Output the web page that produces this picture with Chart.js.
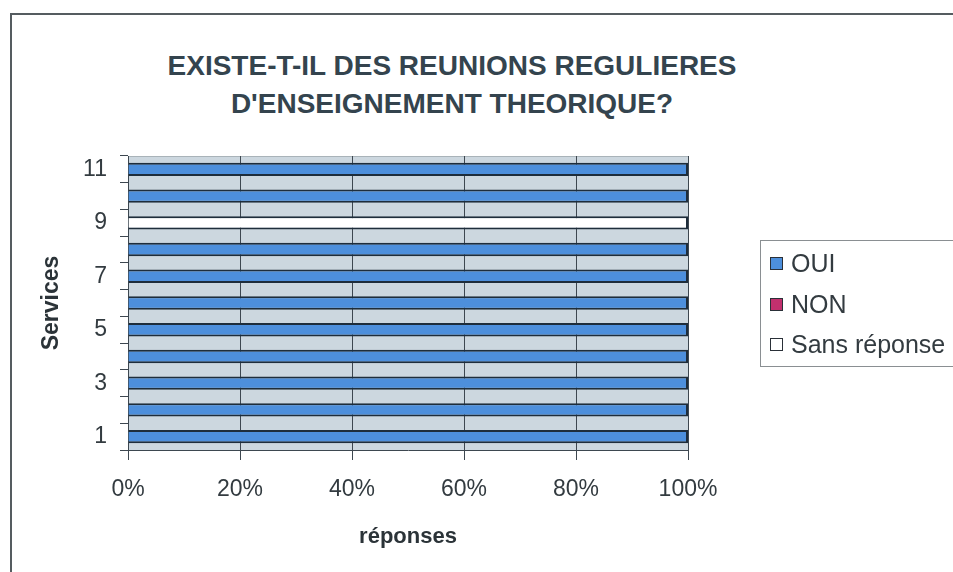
<!DOCTYPE html>
<html lang="fr">
<head>
    <meta charset="UTF-8">
    <title>Réunions d'enseignement théorique</title>
    <script src="https://cdn.jsdelivr.net/npm/chart.js"></script>
    <style>
        body { margin: 0; background: #fff; font-family: "Liberation Sans", Arial, sans-serif; }
        .wrap { position: relative; width: 953px; height: 572px; overflow: hidden; }
        .frame { position: absolute; left: 10px; top: 13px; width: 960px; height: 580px;
                 border-left: 2px solid #555c60; border-top: 2px solid #555c60; }
        .title { position: absolute; left: 102px; width: 700px; top: 47px; text-align: center;
                 font-weight: bold; font-size: 28px; line-height: 38px; color: #34444e; }
        canvas { position: absolute; left: 0; top: 0; }
        .legend { position: absolute; left: 760px; top: 240px; width: 210px; height: 125px;
                  border: 1px solid #8a8f92; border-right: none; }
        .legend div { position: absolute; left: 9px; height: 28px; line-height: 28px;
                      font-size: 25px; color: #333b40; white-space: nowrap; }
        .legend span { display: inline-block; width: 11px; height: 11px; border: 1px solid #2a3038;
                       margin-right: 8px; vertical-align: 2px; }
    </style>
</head>
<body>
<div class="wrap">
    <div class="frame"></div>
    <div class="title">EXISTE-T-IL DES REUNIONS REGULIERES<br>D'ENSEIGNEMENT THEORIQUE?</div>
    <canvas id="chart" width="953" height="572"></canvas>
    <div class="legend" id="legend"></div>
</div>

<script>
    // services 1..11 (bottom to top)
    const services = ['1', '2', '3', '4', '5', '6', '7', '8', '9', '10', '11'];
    const oui = [100, 100, 100, 100, 100, 100, 100, 100, 0, 100, 100];
    const non = [0, 0, 0, 0, 0, 0, 0, 0, 0, 0, 0];
    const sansReponse = [0, 0, 0, 0, 0, 0, 0, 0, 100, 0, 0];
    const xTicks = [0, 20, 40, 60, 80, 100];

    const plotBg = {
        id: 'plotBg',
        beforeDraw(chart) {
            const { ctx, chartArea: a } = chart;
            ctx.save();
            ctx.fillStyle = '#ccd7df';
            ctx.fillRect(a.left, a.top, a.right - a.left, a.bottom - a.top);
            ctx.strokeStyle = '#a9b3b9';
            ctx.lineWidth = 1;
            ctx.beginPath();
            ctx.moveTo(a.left, a.top + 0.5);
            ctx.lineTo(a.right, a.top + 0.5);
            ctx.stroke();
            ctx.restore();
        }
    };

    const barStyle = { borderColor: '#1e2d3b', borderWidth: 2, barPercentage: 0.5, categoryPercentage: 1 };

    const chart = new Chart(document.getElementById('chart'), {
        type: 'bar',
        data: {
            labels: services,
            datasets: [
                { label: 'OUI', data: oui, backgroundColor: '#4d8fdc', ...barStyle },
                { label: 'NON', data: non, backgroundColor: '#c2306e', ...barStyle },
                { label: 'Sans réponse', data: sansReponse, backgroundColor: '#ffffff', ...barStyle }
            ]
        },
        options: {
            indexAxis: 'y',
            responsive: false,
            animation: false,
            layout: { padding: { top: 156, left: 38, right: 265, bottom: 0 } },
            plugins: { legend: { display: false }, title: { display: false }, tooltip: { enabled: false } },
            scales: {
                x: {
                    stacked: true,
                    min: 0,
                    max: 100,
                    afterFit: s => { s.height = 122; },
                    afterBuildTicks: s => { s.ticks = xTicks.map(v => ({ value: v })); },
                    ticks: {
                        callback: v => v + '%',
                        color: '#333b40',
                        font: { family: 'Liberation Sans', size: 23 },
                        padding: 16
                    },
                    grid: { color: '#3d4750', lineWidth: 1, tickLength: 10 },
                    border: { color: '#3d4750', width: 1 },
                    title: {
                        display: true,
                        text: 'réponses',
                        color: '#2b3338',
                        font: { family: 'Liberation Sans', size: 22, weight: 'bold' },
                        padding: { top: 0, bottom: 22 }
                    }
                },
                y: {
                    stacked: true,
                    reverse: true,
                    afterFit: s => { s.width = 90; },
                    ticks: {
                        autoSkip: false,
                        callback: (v, i) => (i % 2 === 0 ? services[i] : ''),
                        color: '#333b40',
                        font: { family: 'Liberation Sans', size: 23 },
                        padding: 13
                    },
                    grid: { offset: true, drawOnChartArea: false, color: '#3d4750', tickLength: 8 },
                    border: { color: '#3d4750', width: 1 },
                    title: {
                        display: true,
                        text: 'Services',
                        color: '#2b3338',
                        font: { family: 'Liberation Sans', size: 23, weight: 'bold' },
                        padding: { top: 0, bottom: 0 }
                    }
                }
            }
        },
        plugins: [plotBg]
    });

    // legend built from the datasets
    const legend = document.getElementById('legend');
    const rowTops = [8, 49, 89];
    chart.data.datasets.forEach((ds, i) => {
        const row = document.createElement('div');
        row.style.top = rowTops[i] + 'px';
        const box = document.createElement('span');
        box.style.background = ds.backgroundColor;
        row.appendChild(box);
        row.appendChild(document.createTextNode(ds.label));
        legend.appendChild(row);
    });
</script>
</body>
</html>
